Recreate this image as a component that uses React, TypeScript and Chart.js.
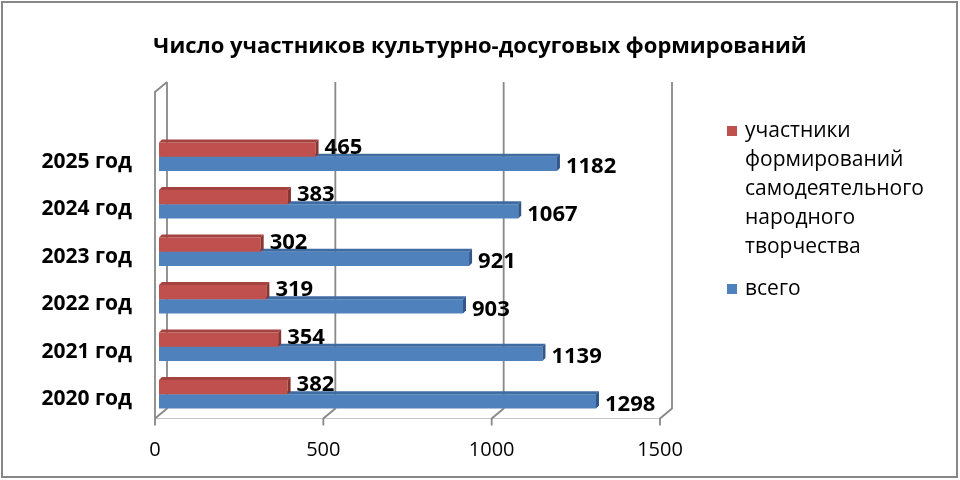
import { useEffect, useRef } from 'react'
import { Chart, registerables } from 'chart.js'

Chart.register(...registerables)

// data, in chronological order (bottom to top on the chart)
const years = ['2020 год', '2021 год', '2022 год', '2023 год', '2024 год', '2025 год']
const participants = [382, 354, 319, 302, 383, 465]
const totals = [1298, 1139, 903, 921, 1067, 1182]
const xTicks = [0, 500, 1000, 1500]

const titleText = 'Число участников культурно-досуговых формирований'
const participantsLabel = 'участники формирований самодеятельного народного творчества'
const totalsLabel = 'всего'

const FONT = "'Open Sans', sans-serif"

// face / top / side colours for the fake 3D bars
const shades = [
    { face: '#C0504D', top: '#A3423F', side: '#8A3431' },
    { face: '#4F81BD', top: '#3F6BA3', side: '#325788' },
]

const DX = 12 // wall depth, px
const DY = 10

const wrap = (ctx: CanvasRenderingContext2D, text: string, maxWidth: number) => {
    const words = text.split(' ')
    const lines: string[] = []
    let line = ''
    words.forEach((w) => {
        const test = line ? line + ' ' + w : w
        if (line && ctx.measureText(test).width > maxWidth) {
            lines.push(line)
            line = w
        } else {
            line = test
        }
    })
    if (line) lines.push(line)
    return lines
}

const excelLook = {
    id: 'excelLook',
    beforeDatasetsDraw(chart: any) {
        const { ctx, chartArea, scales } = chart
        const xs = scales.x
        const ys = scales.y
        ctx.save()

        // outer frame
        ctx.strokeStyle = '#878787'
        ctx.lineWidth = 2
        ctx.strokeRect(2, 2, 955, 475)

        // title
        ctx.fillStyle = '#000'
        ctx.font = `bold 22px ${FONT}`
        ctx.textAlign = 'center'
        ctx.textBaseline = 'middle'
        ctx.fillText(titleText, 480, 47)

        // walls and floor
        const floorFront = chartArea.bottom + 0.5
        const floorBack = floorFront - DY
        const wallTop = 82
        const backX = (v: number) => xs.getPixelForValue(v) + 8

        ctx.strokeStyle = '#c6c6c6'
        ctx.lineWidth = 1
        ctx.beginPath()
        ctx.moveTo(backX(xTicks[0]) - DX, floorFront)
        ctx.lineTo(backX(xTicks[xTicks.length - 1]) - DX, floorFront)
        ctx.stroke()

        ctx.strokeStyle = '#888888'
        ctx.lineWidth = 1.8
        ctx.font = `20px ${FONT}`
        xTicks.forEach((v) => {
            const xb = backX(v)
            const xf = xb - DX
            ctx.beginPath()
            ctx.moveTo(xb, wallTop)
            ctx.lineTo(xb, floorBack)
            ctx.lineTo(xf, floorFront)
            ctx.lineTo(xf, floorFront + 7)
            ctx.stroke()
            ctx.fillText(String(v), xf, 450)
        })

        // left wall front edge
        const x0 = backX(xTicks[0])
        ctx.beginPath()
        ctx.moveTo(x0, wallTop)
        ctx.lineTo(x0 - DX, wallTop + DY)
        ctx.lineTo(x0 - DX, floorFront)
        ctx.stroke()

        // category labels
        ctx.font = `bold 21px ${FONT}`
        ctx.textAlign = 'right'
        chart.data.labels.forEach((lab: string, i: number) => {
            ctx.fillText(lab, 132, ys.getPixelForValue(i) + 5)
        })
        ctx.restore()
    },
    afterDatasetDraw(chart: any, args: any) {
        const { ctx } = chart
        const sh = shades[args.index]
        const d = 3
        ctx.save()
        args.meta.data.forEach((el: any) => {
            const { x, y, base, height } = el.getProps(['x', 'y', 'base', 'height'], true)
            const t = y - height / 2
            const b = y + height / 2
            ctx.fillStyle = sh.top
            ctx.beginPath()
            ctx.moveTo(base, t)
            ctx.lineTo(base + d, t - d)
            ctx.lineTo(x + d, t - d)
            ctx.lineTo(x, t)
            ctx.closePath()
            ctx.fill()
            ctx.fillStyle = sh.side
            ctx.beginPath()
            ctx.moveTo(x, t)
            ctx.lineTo(x + d, t - d)
            ctx.lineTo(x + d, b - d)
            ctx.lineTo(x, b)
            ctx.closePath()
            ctx.fill()
        })
        ctx.restore()
    },
    afterDatasetsDraw(chart: any) {
        const { ctx } = chart
        ctx.save()
        ctx.fillStyle = '#000'
        ctx.font = `bold 22px ${FONT}`
        ctx.textAlign = 'left'
        ctx.textBaseline = 'middle'
        chart.data.datasets.forEach((ds: any, i: number) => {
            chart.getDatasetMeta(i).data.forEach((el: any, j: number) => {
                const { x, y } = el.getProps(['x', 'y'], true)
                ctx.fillText(String(ds.data[j]), x + 9, y + (i === 0 ? -2 : 3))
            })
        })

        // legend with wrapped labels
        ctx.font = `21px ${FONT}`
        let ly = 131
        chart.data.datasets.forEach((ds: any, i: number) => {
            ctx.fillStyle = shades[i].face
            ctx.fillRect(727, ly - 5, 10, 10)
            ctx.fillStyle = '#000'
            const lines = wrap(ctx, ds.label, 190)
            lines.forEach((ln, k) => ctx.fillText(ln, 745, ly + k * 29))
            ly += lines.length * 29 + 13
        })
        ctx.restore()
    },
}

const App = () => {
    const chartRef = useRef<HTMLCanvasElement>(null)

    useEffect(() => {
        if (!chartRef.current) return
        const myChart = new Chart(chartRef.current, {
            type: 'bar',
            data: {
                labels: years.slice().reverse(),
                datasets: [
                    {
                        label: participantsLabel,
                        data: participants.slice().reverse(),
                        backgroundColor: shades[0].face,
                    },
                    {
                        label: totalsLabel,
                        data: totals.slice().reverse(),
                        backgroundColor: shades[1].face,
                    },
                ],
            },
            options: {
                indexAxis: 'y',
                responsive: false,
                animation: false,
                layout: { padding: { left: 159, right: 296, top: 133, bottom: 62 } },
                datasets: { bar: { barPercentage: 1, categoryPercentage: 0.6 } },
                scales: {
                    x: { display: false, min: 0, max: 1500 },
                    y: { display: false },
                },
                plugins: {
                    legend: { display: false },
                    title: { display: false },
                    tooltip: { enabled: false },
                },
            },
            plugins: [excelLook],
        })
        return () => {
            myChart.destroy()
        }
    }, [])

    return (
        <div style={{ position: 'absolute', left: 0, top: 0, width: 960, height: 480, background: '#fff' }}>
            <canvas ref={chartRef} width="960" height="480" />
        </div>
    )
}

export default App
